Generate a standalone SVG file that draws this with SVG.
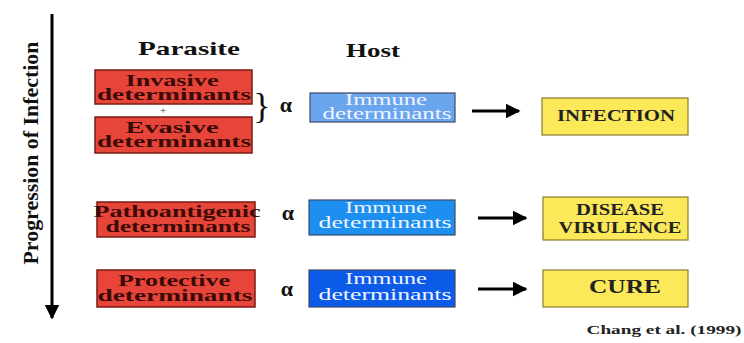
<svg xmlns="http://www.w3.org/2000/svg" width="744" height="343" viewBox="0 0 744 343">
<defs>
<marker id="ah" viewBox="0 0 10 10" refX="9" refY="5" markerWidth="5" markerHeight="5" orient="auto" markerUnits="strokeWidth"><path d="M0,0 L10,5 L0,10 z" fill="#000"/></marker>
<style>
.red{fill:#e8453a;stroke:#7a1a12;stroke-width:1.5}
.blue{stroke:#3a4a6a;stroke-width:1.2}
.yel{fill:#fbe95a;stroke:#8a7a30;stroke-width:1.2}
.rt{font-weight:bold;font-size:16px;fill:#3a0a06;text-anchor:middle}
.bt{font-size:16px;fill:#f0f4ff;text-anchor:middle}
.yt{font-weight:bold;font-size:16px;fill:#222;text-anchor:middle}
.hd{font-weight:bold;font-size:19px;fill:#111;text-anchor:middle}
.al{font-weight:bold;font-size:22px;fill:#111;text-anchor:middle}
.ar{stroke:#000;stroke-width:3;fill:none}
</style>
</defs>
<rect width="744" height="343" fill="#fff"/>
<g font-family="Liberation Serif, Times New Roman, serif">
<g id="axis">
<line x1="52" y1="14" x2="52" y2="318" class="ar" marker-end="url(#ah)"/>
<text transform="translate(38,153) rotate(-90)" class="hd" style="font-size:22px" textLength="223" lengthAdjust="spacingAndGlyphs">Progression of Infection</text>
</g>
<g id="headers">
<text x="189" y="55" class="hd" textLength="102" lengthAdjust="spacingAndGlyphs">Parasite</text>
<text x="373" y="57" class="hd" textLength="54" lengthAdjust="spacingAndGlyphs">Host</text>
</g>
<g id="invasive">
<rect x="95" y="70" width="157" height="34" class="red"/>
<text class="rt"><tspan x="172" y="86" textLength="93" lengthAdjust="spacingAndGlyphs">Invasive</tspan><tspan x="174" y="100" textLength="154" lengthAdjust="spacingAndGlyphs">determinants</tspan></text>
</g>
<text x="163" y="114" font-size="11" fill="#333" text-anchor="middle">+</text>
<g id="evasive">
<rect x="95" y="117" width="157" height="36" class="red"/>
<text class="rt"><tspan x="172" y="133" textLength="93" lengthAdjust="spacingAndGlyphs">Evasive</tspan><tspan x="174" y="147" textLength="154" lengthAdjust="spacingAndGlyphs">determinants</tspan></text>
</g>
<g id="pathoantigenic">
<rect x="97" y="202" width="158" height="35" class="red"/>
<text class="rt"><tspan x="177" y="217" textLength="167" lengthAdjust="spacingAndGlyphs">Pathoantigenic</tspan><tspan x="178" y="232" textLength="145" lengthAdjust="spacingAndGlyphs">determinants</tspan></text>
</g>
<g id="protective">
<rect x="97" y="270" width="158" height="37" class="red"/>
<text class="rt"><tspan x="174" y="286" textLength="112" lengthAdjust="spacingAndGlyphs">Protective</tspan><tspan x="175" y="301" textLength="155" lengthAdjust="spacingAndGlyphs">determinants</tspan></text>
</g>
<g id="symbols">
<text x="262" y="118" font-size="36" fill="#111" text-anchor="middle">}</text>
<text x="286" y="112" class="al">α</text>
<text x="288" y="220" class="al">α</text>
<text x="287" y="296" class="al">α</text>
</g>
<g id="immune1">
<rect x="310" y="93" width="145" height="29" class="blue" fill="#6aa6ee"/>
<text class="bt"><tspan x="386" y="105" textLength="82" lengthAdjust="spacingAndGlyphs">Immune</tspan><tspan x="387" y="119" textLength="129" lengthAdjust="spacingAndGlyphs">determinants</tspan></text>
</g>
<g id="immune2">
<rect x="309" y="200" width="146" height="35" class="blue" fill="#1c8ff0"/>
<text class="bt"><tspan x="386" y="213" textLength="82" lengthAdjust="spacingAndGlyphs">Immune</tspan><tspan x="385" y="228" textLength="133" lengthAdjust="spacingAndGlyphs">determinants</tspan></text>
</g>
<g id="immune3">
<rect x="309" y="270" width="146" height="37" class="blue" fill="#0b5be8"/>
<text class="bt"><tspan x="386" y="284" textLength="82" lengthAdjust="spacingAndGlyphs">Immune</tspan><tspan x="385" y="300" textLength="133" lengthAdjust="spacingAndGlyphs">determinants</tspan></text>
</g>
<g id="infection">
<rect x="542" y="98" width="146" height="37" class="yel"/>
<text x="616" y="121" class="yt" textLength="118" lengthAdjust="spacingAndGlyphs">INFECTION</text>
</g>
<g id="disease">
<rect x="543" y="197" width="145" height="43" class="yel"/>
<text class="yt"><tspan x="620" y="215" textLength="88" lengthAdjust="spacingAndGlyphs">DISEASE</tspan><tspan x="620" y="233" textLength="123" lengthAdjust="spacingAndGlyphs">VIRULENCE</tspan></text>
</g>
<g id="cure">
<rect x="543" y="270" width="145" height="37" class="yel"/>
<text x="625" y="293" class="yt" style="font-size:18px" textLength="72" lengthAdjust="spacingAndGlyphs">CURE</text>
</g>
<g id="connectors">
<line x1="472" y1="111" x2="519" y2="111" class="ar" marker-end="url(#ah)"/>
<line x1="478" y1="218" x2="526" y2="218" class="ar" marker-end="url(#ah)"/>
<line x1="478" y1="289" x2="526" y2="289" class="ar" marker-end="url(#ah)"/>
</g>
<text x="664" y="334" class="yt" style="font-size:13px" textLength="155" lengthAdjust="spacingAndGlyphs">Chang et al. (1999)</text>
</g>
</svg>
